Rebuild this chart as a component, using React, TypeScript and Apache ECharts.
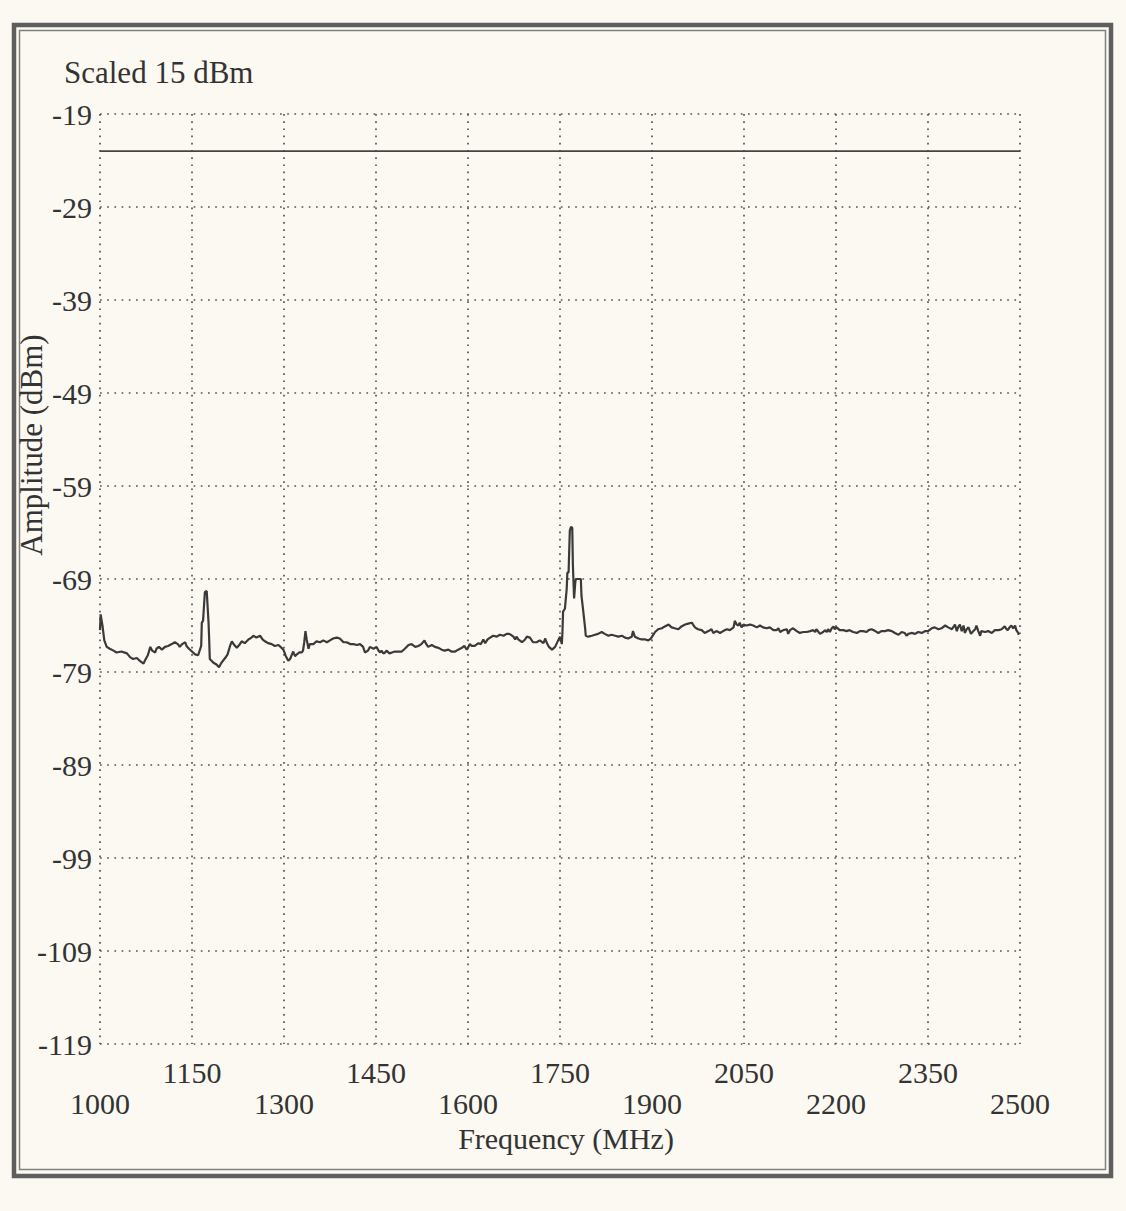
import React, { useEffect, useRef } from "react";
import * as echarts from "echarts";

// Frequency (MHz) of each trace point
const freqMHz = [
  1000, 1001, 1004, 1007, 1011, 1016, 1022, 1027, 1035, 1044, 1049, 1054, 1060, 1065, 1071, 1073, 1078, 1082, 1085, 1090,
  1092, 1096, 1101, 1106, 1111, 1117, 1122, 1127, 1130, 1134, 1139, 1141, 1145, 1150, 1155, 1160, 1165, 1166, 1168, 1171,
  1174, 1177, 1178, 1179, 1185, 1190, 1194, 1198, 1204, 1208, 1212, 1215, 1219, 1223, 1227, 1231, 1236, 1242, 1247, 1250,
  1255, 1261, 1265, 1269, 1274, 1280, 1285, 1291, 1296, 1299, 1303, 1307, 1310, 1313, 1315, 1318, 1321, 1325, 1329, 1331,
  1333, 1335, 1337, 1340, 1342, 1348, 1353, 1359, 1364, 1370, 1375, 1380, 1386, 1391, 1397, 1402, 1408, 1413, 1419, 1424,
  1429, 1432, 1437, 1440, 1446, 1451, 1454, 1457, 1459, 1462, 1465, 1467, 1472, 1476, 1481, 1486, 1492, 1497, 1503, 1508,
  1514, 1519, 1524, 1529, 1531, 1535, 1541, 1546, 1552, 1557, 1562, 1568, 1573, 1579, 1584, 1590, 1594, 1598, 1600, 1603,
  1606, 1611, 1617, 1621, 1625, 1628, 1632, 1636, 1641, 1647, 1652, 1658, 1663, 1667, 1670, 1674, 1677, 1679, 1682, 1688,
  1693, 1696, 1701, 1706, 1712, 1717, 1723, 1726, 1728, 1732, 1737, 1742, 1747, 1750, 1753, 1754, 1755, 1758, 1761, 1762,
  1764, 1766, 1768, 1770, 1771, 1773, 1775, 1776, 1784, 1785, 1788, 1791, 1792, 1796, 1802, 1807, 1812, 1818, 1823, 1829,
  1834, 1840, 1845, 1851, 1856, 1861, 1867, 1869, 1872, 1878, 1883, 1889, 1894, 1898, 1902, 1905, 1910, 1916, 1921, 1927,
  1932, 1937, 1943, 1948, 1954, 1959, 1965, 1967, 1970, 1975, 1981, 1986, 1992, 1997, 2000, 2005, 2011, 2016, 2022, 2027,
  2033, 2035, 2038, 2041, 2043, 2046, 2049, 2054, 2060, 2065, 2071, 2076, 2081, 2087, 2092, 2098, 2103, 2106, 2109, 2114,
  2120, 2122, 2125, 2130, 2136, 2141, 2147, 2152, 2158, 2163, 2166, 2168, 2174, 2179, 2182, 2185, 2187, 2190, 2193, 2196,
  2198, 2201, 2206, 2212, 2217, 2222, 2228, 2234, 2239, 2244, 2250, 2253, 2258, 2264, 2269, 2274, 2280, 2285, 2291, 2296,
  2302, 2307, 2312, 2315, 2318, 2323, 2329, 2334, 2340, 2345, 2350, 2356, 2361, 2367, 2372, 2378, 2383, 2389, 2394, 2397,
  2399, 2402, 2405, 2408, 2410, 2413, 2416, 2420, 2424, 2427, 2429, 2432, 2435, 2437, 2443, 2448, 2454, 2459, 2465, 2470,
  2475, 2478, 2480, 2483, 2486, 2489, 2492, 2494, 2497, 2498,
];

// Amplitude (dBm) at each frequency above
const amplitudeDbm = [
  -74.5, -72.8, -74.0, -75.6, -76.3, -76.5, -76.7, -76.9, -76.8, -77.0, -77.4, -77.6, -77.5, -77.8, -78.1, -77.8, -77.2, -76.3, -76.7, -76.9,
  -76.5, -76.3, -76.6, -76.3, -76.2, -76.0, -75.8, -76.0, -76.3, -76.0, -75.8, -76.2, -76.5, -76.8, -77.1, -77.2, -76.2, -73.7, -73.5, -70.4,
  -70.3, -73.7, -75.5, -77.6, -78.0, -78.2, -78.5, -78.0, -77.5, -77.1, -76.2, -75.7, -76.1, -76.4, -76.1, -75.7, -75.9, -75.5, -75.3, -75.1,
  -75.3, -75.1, -75.5, -75.7, -75.9, -76.0, -76.2, -76.1, -76.4, -76.6, -77.3, -77.8, -77.6, -77.1, -76.8, -77.3, -77.1, -76.9, -76.9, -76.7,
  -75.8, -74.6, -75.5, -76.5, -76.0, -76.0, -75.7, -75.8, -75.6, -75.8, -75.6, -75.4, -75.3, -75.4, -75.8, -75.8, -76.0, -76.0, -76.1, -76.0,
  -76.3, -76.9, -76.7, -76.3, -76.5, -76.3, -76.7, -76.9, -76.7, -77.0, -76.9, -76.7, -77.0, -76.9, -76.8, -76.8, -76.8, -76.5, -76.1, -76.0,
  -76.3, -76.2, -76.0, -75.6, -75.9, -76.3, -76.1, -76.3, -76.4, -76.6, -76.7, -76.6, -76.8, -76.8, -76.6, -76.4, -76.2, -76.6, -76.4, -76.0,
  -76.2, -76.2, -75.9, -76.0, -75.5, -75.9, -75.5, -75.3, -75.1, -75.2, -75.0, -75.1, -74.9, -74.9, -75.0, -75.2, -75.5, -75.2, -75.5, -75.8,
  -75.5, -75.2, -75.3, -75.8, -75.8, -75.6, -75.9, -75.4, -75.8, -76.3, -76.6, -76.3, -75.6, -75.2, -76.0, -74.7, -72.5, -72.2, -70.0, -68.3,
  -68.3, -63.8, -63.4, -63.5, -67.5, -71.1, -69.3, -69.0, -69.0, -70.8, -72.5, -74.3, -75.1, -75.2, -75.1, -75.0, -74.9, -74.7, -74.9, -75.1,
  -75.0, -75.1, -75.2, -75.1, -75.3, -75.4, -75.2, -74.6, -75.2, -75.4, -75.5, -75.5, -75.6, -75.4, -75.0, -74.7, -74.4, -74.3, -74.1, -73.9,
  -74.2, -74.3, -74.4, -74.1, -73.9, -73.8, -73.7, -73.9, -74.2, -74.4, -74.5, -74.8, -74.6, -74.4, -74.8, -74.6, -74.8, -74.6, -74.4, -74.5,
  -74.2, -73.5, -73.9, -74.0, -73.7, -74.2, -73.9, -74.0, -73.9, -74.0, -74.2, -74.0, -74.2, -74.3, -74.2, -74.5, -74.5, -74.3, -74.7, -74.5,
  -74.4, -74.9, -74.5, -74.3, -74.6, -74.8, -74.7, -74.7, -74.6, -74.5, -74.7, -74.4, -74.9, -74.7, -74.5, -74.7, -74.4, -74.7, -74.3, -74.1,
  -74.4, -74.2, -74.5, -74.5, -74.6, -74.5, -74.7, -74.8, -74.6, -74.6, -74.7, -74.5, -74.4, -74.6, -74.8, -74.6, -74.6, -74.5, -74.6, -74.8,
  -75.0, -74.7, -74.8, -75.1, -74.9, -74.8, -74.9, -74.7, -74.8, -74.6, -74.6, -74.3, -74.2, -74.4, -74.3, -74.0, -74.2, -74.4, -73.9, -74.6,
  -74.2, -73.9, -74.6, -74.0, -74.8, -74.4, -74.2, -74.9, -74.6, -74.4, -74.0, -74.6, -75.1, -74.6, -74.7, -74.6, -74.8, -74.5, -74.5, -74.4,
  -74.1, -74.4, -74.5, -74.2, -74.0, -74.3, -74.0, -74.5, -74.8, -75.0,
];

// Reference level line
const refLevelDbm = -23;

// Tick values
const xTicks = [1000, 1150, 1300, 1450, 1600, 1750, 1900, 2050, 2200, 2350, 2500];
const yTicks = [-119, -109, -99, -89, -79, -69, -59, -49, -39, -29, -19];

const FONT = '"Liberation Serif", "Times New Roman", Times, serif';
const INK = "#333333";

export default function App() {
  const ref = useRef<HTMLDivElement>(null);

  useEffect(() => {
    if (!ref.current) return;
    const chart = echarts.init(ref.current, null, { renderer: "svg" });
    const gridStyle = { color: "#555555", width: 1.7, type: [1.7, 5.5] };

    chart.setOption({
      animation: false,
      backgroundColor: "#fbf9f1",
      grid: { left: 100, right: 106, top: 114, bottom: 167 },
      xAxis: {
        type: "value",
        min: xTicks[0],
        max: xTicks[xTicks.length - 1],
        axisLine: { show: false },
        axisTick: { show: false, customValues: xTicks },
        splitLine: { show: true, lineStyle: gridStyle },
        axisLabel: {
          customValues: xTicks,
          margin: 12.5,
          fontFamily: FONT,
          fontSize: 30,
          lineHeight: 31,
          color: INK,
          formatter: (v: number) => {
            const i = xTicks.indexOf(Math.round(v));
            return i % 2 === 0 ? "\n" + Math.round(v) : String(Math.round(v));
          },
        },
      },
      yAxis: {
        type: "value",
        min: yTicks[0],
        max: yTicks[yTicks.length - 1],
        axisLine: { show: false },
        axisTick: { show: false, customValues: yTicks },
        splitLine: { show: true, lineStyle: gridStyle },
        axisLabel: {
          customValues: yTicks,
          margin: 8,
          fontFamily: FONT,
          fontSize: 30,
          color: INK,
          formatter: (v: number) => String(Math.round(v)),
        },
      },
      series: [
        {
          type: "line",
          name: "Amplitude",
          data: freqMHz.map((f, i) => [f, amplitudeDbm[i]]),
          symbol: "none",
          lineStyle: { color: "#3a3a3a", width: 2.2 },
          z: 3,
        },
        {
          type: "line",
          name: "Reference",
          data: [
            [xTicks[0], refLevelDbm],
            [xTicks[xTicks.length - 1], refLevelDbm],
          ],
          symbol: "none",
          lineStyle: { color: "#444444", width: 1.8 },
          z: 2,
        },
      ],
      graphic: [
        {
          type: "rect",
          shape: { x: 14, y: 25, width: 1097, height: 1151 },
          style: { fill: "none", stroke: "#5e5e5e", lineWidth: 4.5 },
          silent: true,
        },
        {
          type: "rect",
          shape: { x: 19.5, y: 30.5, width: 1086, height: 1139 },
          style: { fill: "none", stroke: "#808080", lineWidth: 1.5 },
          silent: true,
        },
        {
          type: "text",
          x: 64,
          y: 72,
          style: {
            text: "Scaled 15 dBm",
            fontFamily: FONT,
            fontSize: 31,
            fill: INK,
            align: "left",
            verticalAlign: "middle",
            textAlign: "left",
            textVerticalAlign: "middle",
          },
        },
        {
          type: "text",
          x: 31,
          y: 445,
          rotation: Math.PI / 2,
          style: {
            text: "Amplitude (dBm)",
            fontFamily: FONT,
            fontSize: 31,
            fill: INK,
            align: "center",
            verticalAlign: "middle",
            textAlign: "center",
            textVerticalAlign: "middle",
          },
        },
        {
          type: "text",
          x: 566,
          y: 1138,
          style: {
            text: "Frequency (MHz)",
            fontFamily: FONT,
            fontSize: 30,
            fill: INK,
            align: "center",
            verticalAlign: "middle",
            textAlign: "center",
            textVerticalAlign: "middle",
          },
        },
      ],
    });

    return () => chart.dispose();
  }, []);

  return (
    <div
      ref={ref}
      style={{ position: "fixed", left: 0, top: 0, width: 1126, height: 1211, background: "#fbf9f1" }}
    />
  );
}
